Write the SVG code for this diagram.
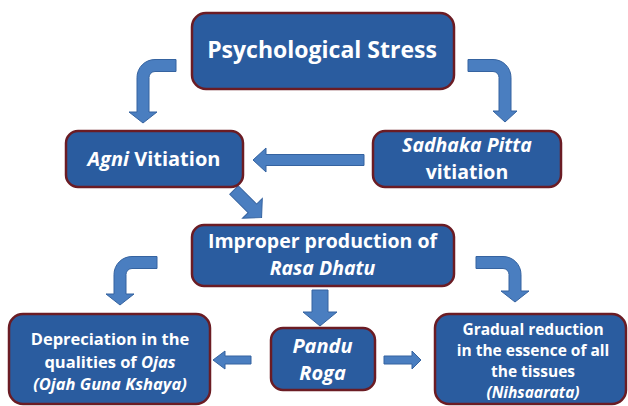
<svg xmlns="http://www.w3.org/2000/svg" width="628" height="406" viewBox="0 0 628 406">
<style>
.box{fill:#2a5c9f;stroke:#6b1c24;stroke-width:2.5}
.arr{fill:#4a7ec0;stroke:#3563a0;stroke-width:1}
text{font-family:"Open Sans","Liberation Sans",sans-serif;font-weight:bold;fill:#ffffff;text-anchor:middle}
.it{font-style:italic}
</style>
<rect width="628" height="406" fill="#ffffff"/>
<g id="connectors">
<path class="arr" d="M176,59.5 H155 A18,18 0 0 0 137,77.5 V112 H129 L143,123 L157,112 H149 V77.5 A6,6 0 0 1 155,71.5 H176 Z"/>
<path class="arr" d="M468,59.5 H493 A18,18 0 0 1 511,77.5 V111 H517 L505,122 L493,111 H499 V77.5 A6,6 0 0 0 493,71.5 H468 Z"/>
<path class="arr" d="M364,154.5 H266 V148 L253,160 L266,172 V165.5 H364 Z"/>
<path class="arr" transform="translate(234,190) rotate(45)" d="M0,-6 H26 V-14 L39,0 L26,14 V6 H0 Z"/>
<path class="arr" d="M157,256.5 H132 A18,18 0 0 0 114,274.5 V294 H106 L120,305 L134,294 H126 V274.5 A6,6 0 0 1 132,268.5 H157 Z"/>
<path class="arr" d="M476,256.5 H503 A18,18 0 0 1 521,274.5 V291 H529 L515,302 L501,291 H509 V274.5 A6,6 0 0 0 503,268.5 H476 Z"/>
<path class="arr" d="M312,290 H328 V312 H337 L320,326 L303,312 H312 Z"/>
<path class="arr" d="M251,356 H225 V351 L213,360 L225,369 V364 H251 Z"/>
<path class="arr" d="M384,356 H412 V351 L421,360 L412,369 V364 H384 Z"/>
</g>
<g id="stress">
<rect class="box" x="192" y="13" width="262" height="76" rx="14"/>
<text x="322" y="58" font-size="23">Psychological Stress</text>
</g>
<g id="agni">
<rect class="box" x="66" y="131" width="177" height="56" rx="12"/>
<text x="154" y="166" font-size="20"><tspan class="it">Agni</tspan> Vitiation</text>
</g>
<g id="sadhaka">
<rect class="box" x="373" y="131" width="188" height="56" rx="12"/>
<text x="467" y="152" font-size="19.5" class="it">Sadhaka Pitta</text>
<text x="467" y="179" font-size="19.5">vitiation</text>
</g>
<g id="rasa">
<rect class="box" x="192" y="225" width="262" height="61" rx="12"/>
<text x="322.5" y="248" font-size="19.5">Improper production of</text>
<text x="322.5" y="275" font-size="19.5" class="it">Rasa Dhatu</text>
</g>
<g id="pandu">
<rect class="box" x="271" y="328" width="104" height="62" rx="12"/>
<text x="322.5" y="353" font-size="20" class="it">Pandu</text>
<text x="322.5" y="380" font-size="20" class="it">Roga</text>
</g>
<g id="ojas">
<rect class="box" x="9" y="314" width="201" height="90" rx="14"/>
<text x="110" y="345" font-size="16.5">Depreciation in the</text>
<text x="110" y="368" font-size="16.5">qualities of <tspan class="it">Ojas</tspan></text>
<text x="110" y="390" font-size="16.5" class="it">(Ojah  Guna Kshaya)</text>
</g>
<g id="nihsaarata">
<rect class="box" x="435" y="314" width="191" height="90" rx="14"/>
<text x="533" y="335" font-size="15.5">Gradual reduction</text>
<text x="533" y="356" font-size="15.5">in the essence of all</text>
<text x="533" y="377" font-size="15.5">the tissues</text>
<text x="533" y="398" font-size="15.5" class="it">(Nihsaarata)</text>
</g>
</svg>
